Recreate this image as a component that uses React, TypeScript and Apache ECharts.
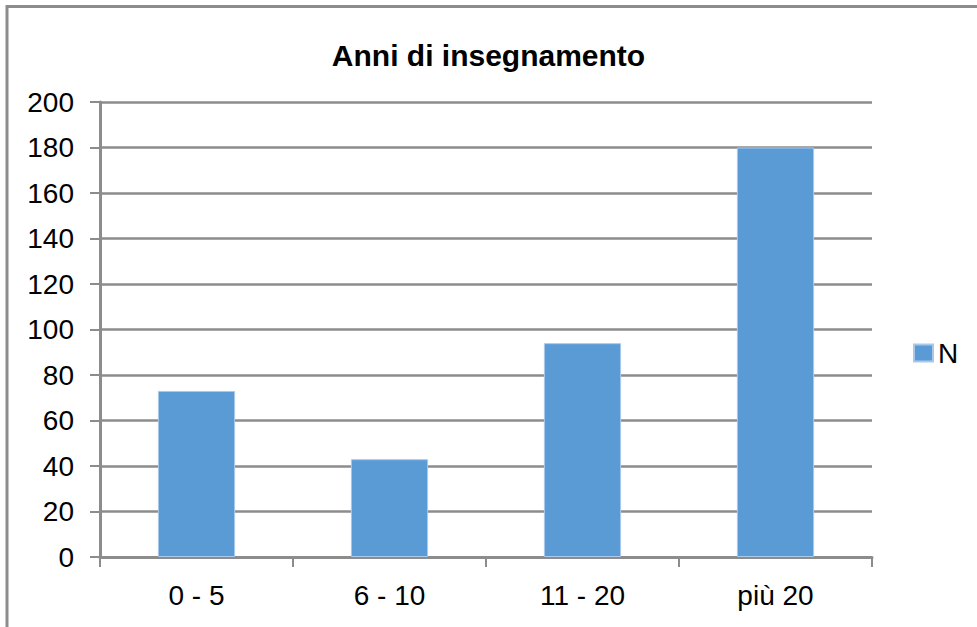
import React, { useEffect, useRef } from "react";
import * as echarts from "echarts";

const categories = ["0 - 5", "6 - 10", "11 - 20", "più 20"];
const values = [73, 43, 94, 180];
const seriesName = "N";
const titleText = "Anni di insegnamento";

export default function App() {
  const ref = useRef<HTMLDivElement>(null);
  useEffect(() => {
    document.body.style.margin = "0";
    const chart = echarts.init(ref.current!, null, { renderer: "svg" });
    const font = "Liberation Sans, Arial, sans-serif";
    const gray = "#8c8c8c";
    chart.setOption({
      animation: false,
      backgroundColor: "#ffffff",
      textStyle: { fontFamily: font },
      title: {
        text: titleText,
        left: "center",
        top: 35,
        textStyle: { fontFamily: font, fontSize: 30, fontWeight: "bold", color: "#000" },
      },
      legend: {
        data: [seriesName],
        left: 908,
        top: 334,
        itemWidth: 19,
        itemHeight: 17,
        icon: "rect",
        textStyle: { fontFamily: font, fontSize: 28, color: "#000" },
      },
      grid: { left: 100, right: 105, top: 102, bottom: 70, containLabel: false },
      xAxis: {
        type: "category",
        data: categories,
        axisLine: { lineStyle: { color: gray, width: 3 } },
        axisTick: { show: true, length: 10, lineStyle: { color: gray, width: 2 } },
        axisLabel: { fontFamily: font, fontSize: 28, color: "#000", margin: 24 },
      },
      yAxis: {
        type: "value",
        min: 0,
        max: 200,
        interval: 20,
        axisLine: { show: true, lineStyle: { color: gray, width: 3 } },
        axisTick: { show: true, length: 10, lineStyle: { color: gray, width: 2 } },
        splitLine: { lineStyle: { color: gray, width: 2.5 } },
        axisLabel: { fontFamily: font, fontSize: 28, color: "#000", margin: 26 },
      },
      graphic: [
        {
          type: "rect",
          shape: { x: 7, y: 6.5, width: 1100, height: 800 },
          style: { fill: "none", stroke: gray, lineWidth: 3 },
          silent: true,
        },
      ],
      series: [
        {
          name: seriesName,
          type: "bar",
          data: values,
          barWidth: "40%",
          itemStyle: { color: "#5b9bd5", borderColor: "#a9c9ea", borderWidth: 1 },
        },
      ],
    });
    return () => chart.dispose();
  }, []);
  return <div ref={ref} style={{ width: 977, height: 627 }} />;
}
